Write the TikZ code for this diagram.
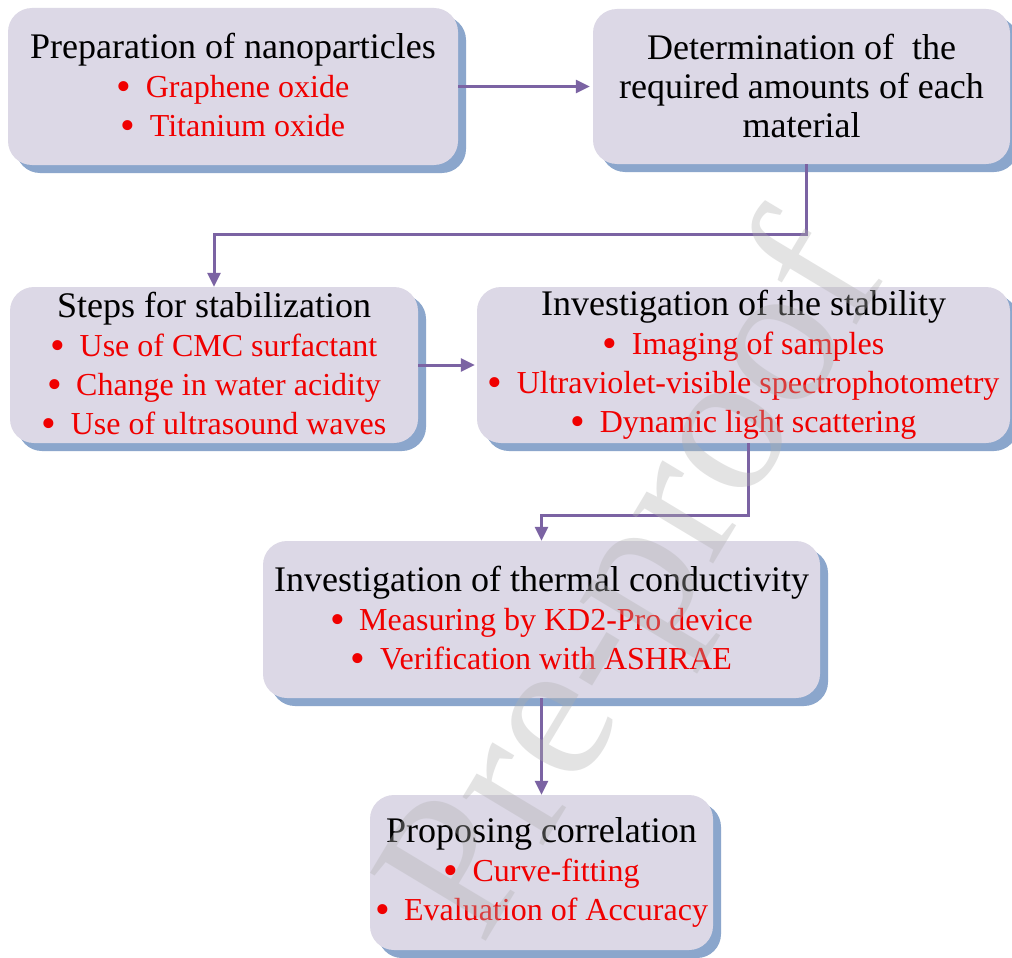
\documentclass[tikz,border=0pt]{standalone}
\usepackage{fontspec}
\setmainfont{Liberation Serif}
\usetikzlibrary{arrows.meta,shadows}
\definecolor{boxfill}{RGB}{220,216,230}
\definecolor{shadowblue}{RGB}{139,166,204}
\definecolor{linepurple}{RGB}{123,99,163}
\definecolor{bulletred}{RGB}{240,0,0}
\definecolor{wmgray}{RGB}{175,175,175}
\newcommand\bulitem[1]{{\fontsize{32}{39}\selectfont\textcolor{bulletred}{\raisebox{-2.5pt}{\fontsize{42}{39}\selectfont\textbullet}\hspace{0.45em}#1}}}
\tikzset{
  stage/.style={rounded corners=24pt, fill=boxfill, align=center, inner sep=0pt,
    font=\fontsize{36}{39}\selectfont, text=black,
    drop shadow={shadow xshift=8pt, shadow yshift=-8pt, opacity=1, fill=shadowblue}},
  flow/.style={draw=linepurple, line width=3pt,
    -{Triangle[length=14pt,width=13pt]}},
  watermark/.style={text=wmgray, opacity=0.35, font=\fontsize{205}{205}\selectfont}
}
\begin{document}
\begin{tikzpicture}[x=1pt,y=-1pt]
\useasboundingbox (0,0) rectangle (1012,958);
\fill[white] (0,0) rectangle (1012,958);

\node[stage, minimum width=450pt, minimum height=157pt] (b1) at (233,86.5)
  {Preparation of nanoparticles\\ \bulitem{Graphene oxide}\\ \bulitem{Titanium oxide}};
\node[stage, minimum width=417pt, minimum height=155pt] (b2) at (801.5,86.5)
  {Determination of\ \ the\\ required amounts of each\\ material};
\node[stage, minimum width=408pt, minimum height=156pt] (b3) at (214,365)
  {Steps for stabilization\\ \bulitem{Use of CMC surfactant}\\ \bulitem{Change in water acidity}\\ \bulitem{Use of ultrasound waves}};
\node[stage, minimum width=533pt, minimum height=156pt] (b4) at (743.5,365)
  {Investigation of the stability\\ \bulitem{Imaging of samples}\\ \bulitem{Ultraviolet-visible spectrophotometry}\\ \bulitem{Dynamic light scattering}};
\node[stage, minimum width=557pt, minimum height=157pt] (b5) at (541.5,619.5)
  {Investigation of thermal conductivity\\ \bulitem{Measuring by KD2-Pro device}\\ \bulitem{Verification with ASHRAE}};
\node[stage, minimum width=343pt, minimum height=155pt] (b6) at (541.5,872.5)
  {Proposing correlation\\ \bulitem{Curve-fitting}\\ \bulitem{Evaluation of Accuracy}};

\draw[flow] (b1.east) -- ([xshift=-3pt]b1.east -| b2.west);
\draw[flow] ([xshift=4.5pt]b2.south) -- ++(0,70) -| (b3.north);
\draw[flow] (b3.east) -- ([xshift=-2pt]b4.west);
\draw[flow] ([xshift=4.5pt]b4.south) -- ++(0,72) -| (b5.north);
\draw[flow] (b5.south) -- (b6.north);

\node[watermark, rotate=59] (wm) at (642,585) {Pre-proof};
\end{tikzpicture}
\end{document}
